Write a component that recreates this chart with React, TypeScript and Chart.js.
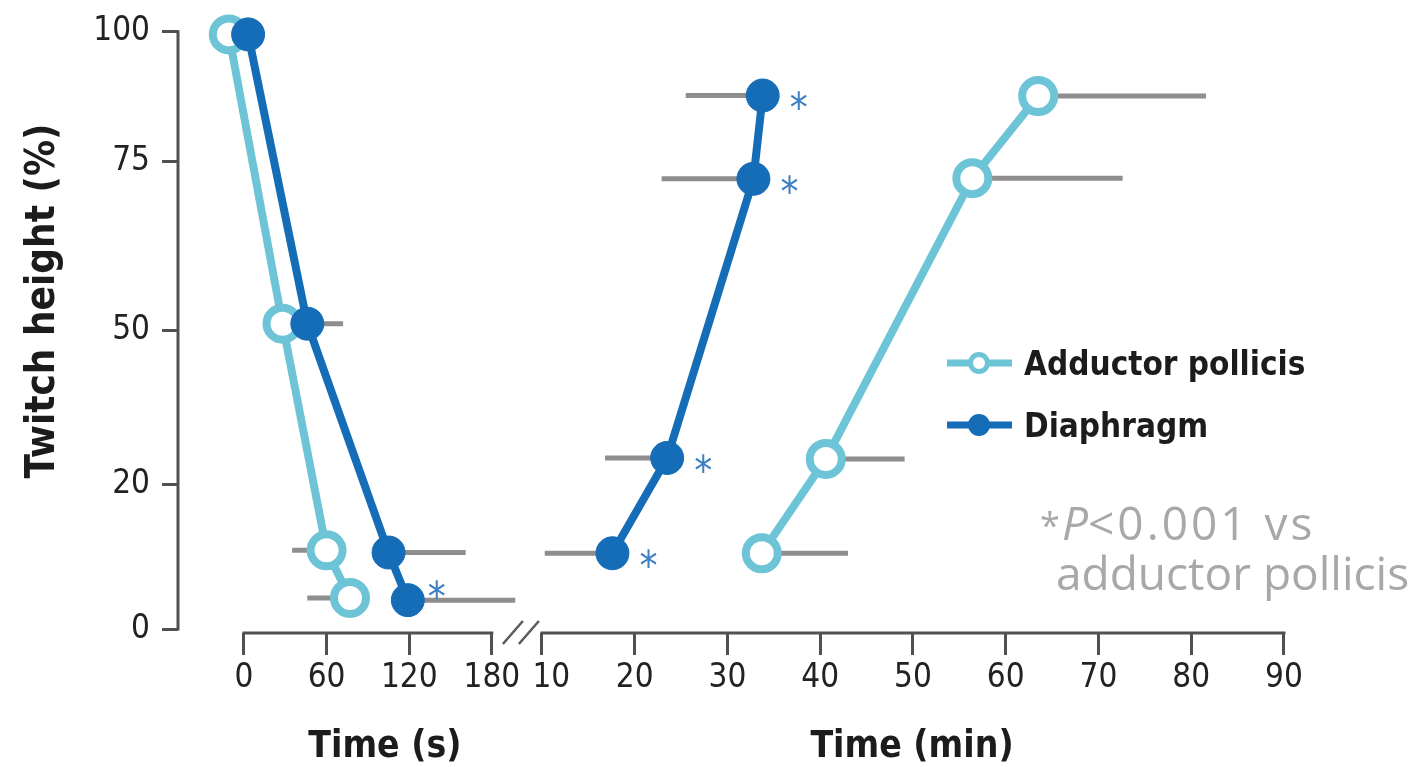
import React, { useEffect, useRef } from 'react';
import { Chart, registerables } from 'chart.js';

Chart.register(...registerables);

// ---- Axis definitions ----
const yTickValues = [0, 20, 50, 75, 100];
const yTickLabels = ['0', '20', '50', '75', '100'];
// relative position (0-100) of each y tick along the (non-linear) axis
const yAxisStops = [0, 24.17, 50, 78.33, 100];

const xTickSeconds = [0, 60, 120, 180];
const xTickMinutes = [10, 20, 30, 40, 50, 60, 70, 80, 90];

// ---- Data: onset (seconds) ----
const adductorOnsetTime = [-11, 28, 60, 77];
const adductorOnsetHeight = [99.5, 51, 10.9, 4.3];
const adductorOnsetSD = [0, 0, 25, 31]; // drawn to the left

const diaphragmOnsetTime = [3, 46, 105, 119];
const diaphragmOnsetHeight = [99.5, 51, 10.6, 4.0];
const diaphragmOnsetSD = [0, 26, 56, 78]; // drawn to the right
const diaphragmOnsetSig = [false, false, false, true];

// ---- Data: recovery (minutes) ----
const adductorRecoveryTime = [33.7, 40.6, 56.4, 63.5];
const adductorRecoveryHeight = [10.5, 25, 72.5, 87.6];
const adductorRecoverySD = [9.3, 8.5, 16.2, 18.1]; // drawn to the right

const diaphragmRecoveryTime = [17.6, 23.5, 32.8, 33.8];
const diaphragmRecoveryHeight = [10.5, 25.2, 72.4, 87.7];
const diaphragmRecoverySD = [7.3, 6.7, 9.9, 8.3]; // drawn to the left
const diaphragmRecoverySig = [true, true, true, true];

// ---- Styles ----
const LIGHT = '#6cc4d6';
const DARK = '#156cb7';
const BAR = '#8e8e8e';
const AXIS = '#505050';
const STAR = '#3d7fc4';
const TEXT = '#1c1c1c';
const NOTE = '#a8a8a8';
const COND = "'DejaVu Sans Condensed', 'Liberation Sans Narrow', 'DejaVu Sans', sans-serif";
const WIDE = "'Open Sans', 'DejaVu Sans', sans-serif";

// composite x axis: seconds segment, then broken axis, then minutes segment
const MIN_SEGMENT_START = 216.4; // composite position of 10 min
const UNITS_PER_MIN = 6.736;
const X_MIN = -47.9;
const X_MAX = 766.9;

const secToU = (s: number) => s;
const minToU = (m: number) => MIN_SEGMENT_START + (m - 10) * UNITS_PER_MIN;

function heightToAxis(v: number): number {
  for (let i = 1; i < yTickValues.length; i++) {
    if (v <= yTickValues[i] || i === yTickValues.length - 1) {
      const a = yTickValues[i - 1], b = yTickValues[i];
      const t = (v - a) / (b - a);
      return yAxisStops[i - 1] + t * (yAxisStops[i] - yAxisStops[i - 1]);
    }
  }
  return v;
}

const xTickPositions = [...xTickSeconds.map(secToU), ...xTickMinutes.map(minToU)];
// the first minute label is nudged right (leading spaces) so it does not collide with "180"
const xTickLabels = [...xTickSeconds.map(String), ...xTickMinutes.map((m, i) => (i === 0 ? '  ' + m : String(m)))];

const errorBarSets = [
  { times: adductorOnsetTime, heights: adductorOnsetHeight, sd: adductorOnsetSD, dir: -1, conv: secToU },
  { times: diaphragmOnsetTime, heights: diaphragmOnsetHeight, sd: diaphragmOnsetSD, dir: 1, conv: secToU },
  { times: adductorRecoveryTime, heights: adductorRecoveryHeight, sd: adductorRecoverySD, dir: 1, conv: minToU },
  { times: diaphragmRecoveryTime, heights: diaphragmRecoveryHeight, sd: diaphragmRecoverySD, dir: -1, conv: minToU },
];

const sigSets = [
  { times: diaphragmOnsetTime, heights: diaphragmOnsetHeight, sig: diaphragmOnsetSig, conv: secToU, dx: 29, dy: -12 },
  { times: diaphragmRecoveryTime, heights: diaphragmRecoveryHeight, sig: diaphragmRecoverySig, conv: minToU, dx: 36, dy: 4 },
];

export default function App() {
  const ref = useRef<HTMLCanvasElement>(null);

  useEffect(() => {
    document.body.style.margin = '0';
    const canvas = ref.current;
    if (!canvas) return;

    const pts = (times: number[], heights: number[], conv: (t: number) => number) =>
      times.map((t, i) => ({ x: conv(t), y: heightToAxis(heights[i]) }));

    const adductorStyle = {
      borderColor: LIGHT,
      borderWidth: 8,
      pointRadius: 16,
      pointBorderWidth: 8,
      pointBackgroundColor: '#ffffff',
      pointBorderColor: LIGHT,
      pointHoverRadius: 16,
      clip: false as const,
      order: 2,
    };
    const diaphragmStyle = {
      borderColor: DARK,
      borderWidth: 8,
      pointRadius: 16.5,
      pointBorderWidth: 1,
      pointBackgroundColor: DARK,
      pointBorderColor: DARK,
      pointHoverRadius: 16.5,
      clip: false as const,
      order: 1,
    };

    const overlay = {
      id: 'overlay',
      beforeDatasetsDraw(chart: any) {
        const { ctx, scales } = chart;
        const x = scales.x, y = scales.y;
        ctx.save();
        ctx.strokeStyle = BAR;
        ctx.lineWidth = 5;
        ctx.lineCap = 'butt';
        for (const b of errorBarSets) {
          b.times.forEach((t, i) => {
            const e = b.sd[i];
            if (!e) return;
            const py = y.getPixelForValue(heightToAxis(b.heights[i]));
            const p0 = x.getPixelForValue(b.conv(t));
            const p1 = x.getPixelForValue(b.conv(t + b.dir * e));
            ctx.beginPath();
            ctx.moveTo(p0, py);
            ctx.lineTo(p1, py);
            ctx.stroke();
          });
        }
        ctx.restore();
      },
      afterDraw(chart: any) {
        const { ctx, scales, chartArea } = chart;
        const x = scales.x, y = scales.y;
        ctx.save();

        // asterisks
        ctx.fillStyle = STAR;
        ctx.font = `40px ${COND}`;
        ctx.textAlign = 'center';
        ctx.textBaseline = 'alphabetic';
        for (const s of sigSets) {
          s.times.forEach((t, i) => {
            if (!s.sig[i]) return;
            const px = x.getPixelForValue(s.conv(t));
            const py = y.getPixelForValue(heightToAxis(s.heights[i]));
            ctx.fillText('*', px + s.dx, py + s.dy + 23);
          });
        }

        // axis lines
        ctx.strokeStyle = AXIS;
        ctx.lineWidth = 3;
        ctx.lineCap = 'butt';
        const y0 = y.getPixelForValue(heightToAxis(0));
        const y100 = y.getPixelForValue(heightToAxis(100));
        ctx.beginPath();
        ctx.moveTo(chartArea.left, y100 - 1.5);
        ctx.lineTo(chartArea.left, y0 + 1.5);
        ctx.stroke();
        const ab = chartArea.bottom;
        const s0 = x.getPixelForValue(secToU(xTickSeconds[0]));
        const s1 = x.getPixelForValue(secToU(xTickSeconds[xTickSeconds.length - 1]));
        const m0 = x.getPixelForValue(minToU(xTickMinutes[0]));
        const m1 = x.getPixelForValue(minToU(xTickMinutes[xTickMinutes.length - 1]));
        ctx.beginPath();
        ctx.moveTo(s0 - 1.5, ab);
        ctx.lineTo(s1 + 1.5, ab);
        ctx.moveTo(m0 - 1.5, ab);
        ctx.lineTo(m1 + 1.5, ab);
        ctx.stroke();

        // axis break marks
        const cx = (s1 + m0) / 2 + 4;
        ctx.lineWidth = 2.5;
        ctx.strokeStyle = '#5a5a5a';
        for (const off of [-8, 8]) {
          ctx.beginPath();
          ctx.moveTo(cx + off - 10, ab + 11);
          ctx.lineTo(cx + off + 10, ab - 12);
          ctx.stroke();
        }

        // axis titles
        ctx.fillStyle = TEXT;
        ctx.font = `bold 37px ${COND}`;
        ctx.textAlign = 'center';
        ctx.textBaseline = 'alphabetic';
        ctx.fillText('Time (s)', (s0 + s1) / 2 + 17, 757);
        ctx.fillText('Time (min)', 912, 757);
        ctx.save();
        ctx.font = `bold 40px ${COND}`;
        ctx.translate(54, 301);
        ctx.rotate(-Math.PI / 2);
        ctx.fillText('Twitch height (%)', 0, 0);
        ctx.restore();

        // legend
        const legendItems = [
          { label: 'Adductor pollicis', color: LIGHT, open: true, y: 363 },
          { label: 'Diaphragm', color: DARK, open: false, y: 425 },
        ];
        for (const it of legendItems) {
          ctx.strokeStyle = it.color;
          ctx.lineWidth = 7;
          ctx.beginPath();
          ctx.moveTo(947, it.y);
          ctx.lineTo(1012, it.y);
          ctx.stroke();
          ctx.beginPath();
          ctx.arc(979, it.y, it.open ? 8.5 : 11, 0, Math.PI * 2);
          if (it.open) {
            ctx.fillStyle = '#ffffff';
            ctx.fill();
            ctx.lineWidth = 5;
            ctx.stroke();
          } else {
            ctx.fillStyle = it.color;
            ctx.fill();
          }
          ctx.fillStyle = TEXT;
          ctx.font = `bold 33px ${COND}`;
          ctx.textAlign = 'left';
          ctx.textBaseline = 'alphabetic';
          ctx.fillText(it.label, 1024, it.y + 12);
        }

        // significance note
        ctx.fillStyle = NOTE;
        ctx.textAlign = 'left';
        ctx.font = `36px ${WIDE}`;
        ctx.fillText('*', 1040, 538);
        ctx.font = `italic 46px ${WIDE}`;
        ctx.fillText('P', 1062, 540);
        const pw = ctx.measureText('P').width;
        ctx.font = `46px ${WIDE}`;
        (ctx as any).letterSpacing = '3px';
        ctx.fillText('<0.001 vs', 1062 + pw, 540);
        (ctx as any).letterSpacing = '0px';
        ctx.fillText('adductor pollicis', 1056, 590);

        ctx.restore();
      },
    };

    const chart = new Chart(canvas, {
      type: 'line',
      data: {
        datasets: [
          { label: 'Adductor pollicis', data: pts(adductorOnsetTime, adductorOnsetHeight, secToU), ...adductorStyle },
          { label: 'Adductor pollicis', data: pts(adductorRecoveryTime, adductorRecoveryHeight, minToU), ...adductorStyle },
          { label: 'Diaphragm', data: pts(diaphragmOnsetTime, diaphragmOnsetHeight, secToU), ...diaphragmStyle },
          { label: 'Diaphragm', data: pts(diaphragmRecoveryTime, diaphragmRecoveryHeight, minToU), ...diaphragmStyle },
        ] as any,
      },
      options: {
        responsive: false,
        animation: false,
        layout: { padding: { top: 29, right: 125, left: 0, bottom: 0 } },
        plugins: { legend: { display: false }, tooltip: { enabled: false }, title: { display: false } },
        elements: { line: { tension: 0 } },
        scales: {
          x: {
            type: 'linear',
            min: X_MIN,
            max: X_MAX,
            border: { display: false },
            grid: {
              display: true,
              drawOnChartArea: false,
              drawTicks: true,
              tickLength: 22,
              tickWidth: 3,
              tickColor: AXIS,
            },
            ticks: {
              autoSkip: false,
              maxRotation: 0,
              padding: 4,
              color: '#222222',
              font: { family: COND, size: 33 },
              callback: (_v: any, i: number) => xTickLabels[i],
            },
            afterBuildTicks: (scale: any) => {
              scale.ticks = xTickPositions.map((v) => ({ value: v }));
            },
            afterFit: (scale: any) => {
              scale.height = 134;
            },
          },
          y: {
            type: 'linear',
            min: -0.667,
            max: 100,
            border: { display: false },
            grid: {
              display: true,
              drawOnChartArea: false,
              drawTicks: true,
              tickLength: 16,
              tickWidth: 3,
              tickColor: AXIS,
            },
            ticks: {
              padding: 12,
              color: '#222222',
              font: { family: COND, size: 33 },
              callback: (_v: any, i: number) => yTickLabels[i],
            },
            afterBuildTicks: (scale: any) => {
              scale.ticks = yTickValues.map((v) => ({ value: heightToAxis(v) }));
            },
            afterFit: (scale: any) => {
              scale.width = 178;
            },
          },
        },
      } as any,
      plugins: [overlay],
    });

    return () => chart.destroy();
  }, []);

  return <canvas ref={ref} width={1425} height={767} style={{ display: 'block' }} />;
}
